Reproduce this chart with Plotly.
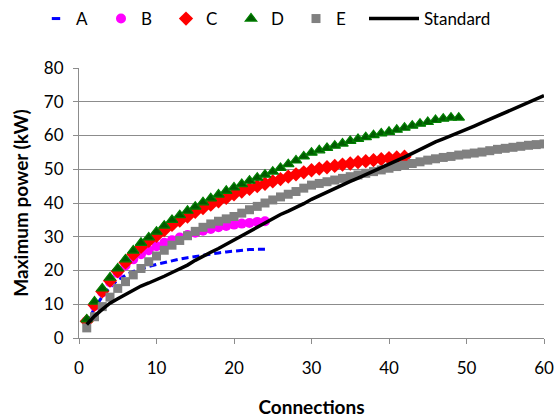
import plotly.graph_objects as go

# ---- data ----
x_A = list(range(1, 25))
y_A = [4.5, 8.8, 12.3, 15.0, 17.2, 18.6, 19.7, 20.5, 21.2, 21.8, 22.4, 22.9,
       23.4, 23.8, 24.2, 24.6, 24.9, 25.2, 25.5, 25.8, 26.0, 26.2, 26.3, 26.3]

x_B = list(range(1, 25))
y_B = [5.0, 9.5, 13.5, 16.5, 19.2, 21.5, 23.3, 24.8, 26.0, 27.2, 28.2, 29.0,
       29.8, 30.5, 31.2, 31.8, 32.3, 32.8, 33.2, 33.6, 33.9, 34.1, 34.4, 34.6]

x_C = list(range(1, 43))
y_C = [5.0, 9.8, 13.8, 17.0, 19.8, 22.4, 24.8, 27.0, 28.8, 30.3, 32.0, 33.5,
       34.8, 36.0, 37.4, 38.5, 39.5, 40.5, 41.5, 42.6, 43.4, 44.2, 45.0, 45.7,
       46.4, 47.1, 47.8, 48.5, 49.1, 49.7, 50.2, 50.6, 51.0, 51.4, 51.7, 52.1,
       52.4, 52.7, 53.0, 53.3, 53.5, 53.7]

x_D = list(range(1, 50))
y_D = [5.5, 10.8, 14.7, 17.9, 20.6, 23.3, 25.9, 28.2, 29.8, 31.5, 33.3, 35.0,
       36.4, 37.7, 38.9, 40.2, 41.4, 42.5, 43.6, 44.6, 45.6, 46.6, 47.5, 48.4,
       49.3, 50.4, 51.5, 52.6, 53.8, 54.9, 55.6, 56.3, 57.0, 57.6, 58.4, 59.0,
       59.5, 60.1, 60.6, 61.1, 61.7, 62.3, 62.9, 63.5, 64.0, 64.6, 65.0, 65.3,
       65.3]

x_E = list(range(1, 61))
y_E = [3.0, 6.3, 9.3, 12.1, 14.7, 16.7, 18.7, 20.6, 22.6, 24.3, 26.0, 27.5,
       28.9, 30.3, 31.6, 32.8, 33.8, 34.6, 35.3, 36.0, 37.0, 38.0, 39.0, 40.0,
       40.9, 41.8, 42.6, 43.4, 44.4, 45.3, 45.8, 46.3, 46.8, 47.3, 47.8, 48.3,
       48.8, 49.3, 49.8, 50.3, 50.8, 51.2, 51.7, 52.2, 52.7, 53.1, 53.5, 53.8,
       54.2, 54.5, 54.8, 55.1, 55.5, 55.9, 56.2, 56.5, 56.8, 57.1, 57.3, 57.5]

x_S = list(range(1, 61))
y_S = [4.0, 6.5, 8.5, 10.3, 11.6, 12.9, 14.2, 15.4, 16.3, 17.2, 18.3, 19.4,
       20.5, 21.6, 23.0, 24.3, 25.4, 26.5, 27.8, 29.1, 30.4, 31.5, 32.7, 34.0,
       35.3, 36.6, 37.6, 38.6, 39.8, 41.1, 42.2, 43.3, 44.4, 45.4, 46.4, 47.4,
       48.4, 49.4, 50.4, 51.4, 52.5, 53.6, 54.7, 55.9, 57.0, 58.1, 59.0, 59.9,
       60.8, 61.8, 62.8, 63.8, 64.8, 65.8, 66.8, 67.8, 68.8, 69.8, 70.8, 71.8]

x_ticks = [0, 10, 20, 30, 40, 50, 60]
y_ticks = [0, 10, 20, 30, 40, 50, 60, 70, 80]

FONT = "Lato"
GRID = "#8c8c8c"

fig = go.Figure()

# A: dashed blue line (legend shown as a short dash)
fig.add_trace(go.Scatter(x=x_A, y=y_A, mode="lines", name="A", showlegend=False,
                         legendgroup="A",
                         line=dict(color="#0000FF", width=3, dash="7px,4px")))
fig.add_trace(go.Scatter(x=[None], y=[None], mode="markers", name="A", legendgroup="A",
                         marker=dict(symbol="line-ew", size=6,
                                     line=dict(color="#0000FF", width=3))))
fig.add_trace(go.Scatter(x=x_B, y=y_B, mode="markers", name="B",
                         marker=dict(symbol="circle", size=10, color="#FF00FF",
                                     line=dict(width=0))))
fig.add_trace(go.Scatter(x=x_C, y=y_C, mode="markers", name="C",
                         marker=dict(symbol="diamond", size=11, color="#FF0000",
                                     line=dict(width=0))))
fig.add_trace(go.Scatter(x=x_D, y=y_D, mode="markers", name="D",
                         marker=dict(symbol="triangle-up", size=10, color="#005a00",
                                     line=dict(color="#008000", width=1.2))))
fig.add_trace(go.Scatter(x=x_E, y=y_E, mode="markers", name="E",
                         marker=dict(symbol="square", size=9, color="#808080",
                                     line=dict(width=0))))
fig.add_trace(go.Scatter(x=x_S, y=y_S, mode="lines", name="Standard", legend="legend2",
                         line=dict(color="#000000", width=3.5)))

fig.update_layout(
    width=556, height=418,
    margin=dict(l=79, r=12, t=68, b=80, pad=0),
    paper_bgcolor="white", plot_bgcolor="white",
    font=dict(family=FONT, size=17, color="#000000"),
    showlegend=True,
    legend=dict(orientation="h", xref="container", yref="container",
                x=36 / 556, y=1 - 19 / 418, xanchor="left", yanchor="middle",
                itemwidth=30, entrywidth=20, entrywidthmode="pixels",
                font=dict(family=FONT, size=17, color="#000000"),
                bgcolor="rgba(0,0,0,0)", borderwidth=0, tracegroupgap=0,
                itemsizing="trace"),
    legend2=dict(orientation="h", xref="container", yref="container",
                 x=364 / 556, y=1 - 19 / 418, xanchor="left", yanchor="middle",
                 itemwidth=50,
                 font=dict(family=FONT, size=17, color="#000000"),
                 bgcolor="rgba(0,0,0,0)", borderwidth=0),
    xaxis=dict(range=[0, 60], tickmode="array", tickvals=x_ticks,
               ticks="outside", ticklen=5, tickcolor=GRID, tickwidth=1,
               showline=True, linecolor=GRID, linewidth=1, automargin=False,
               showgrid=False, zeroline=False, ticklabelstandoff=10,
               tickfont=dict(family=FONT, size=17),
               title=dict(text="<b>Connections</b>", standoff=24,
                          font=dict(family=FONT, size=19))),
    yaxis=dict(range=[0, 80], tickmode="array", tickvals=y_ticks,
               ticks="outside", ticklen=5, tickcolor=GRID, tickwidth=1,
               showline=True, linecolor=GRID, linewidth=1, automargin=False,
               showgrid=True, gridcolor=GRID, gridwidth=1, zeroline=False,
               ticklabelstandoff=6,
               tickfont=dict(family=FONT, size=17),
               title=dict(text="<b>Maximum power (kW)</b>", standoff=10,
                          font=dict(family=FONT, size=19))),
)

fig.write_html("out.html")
